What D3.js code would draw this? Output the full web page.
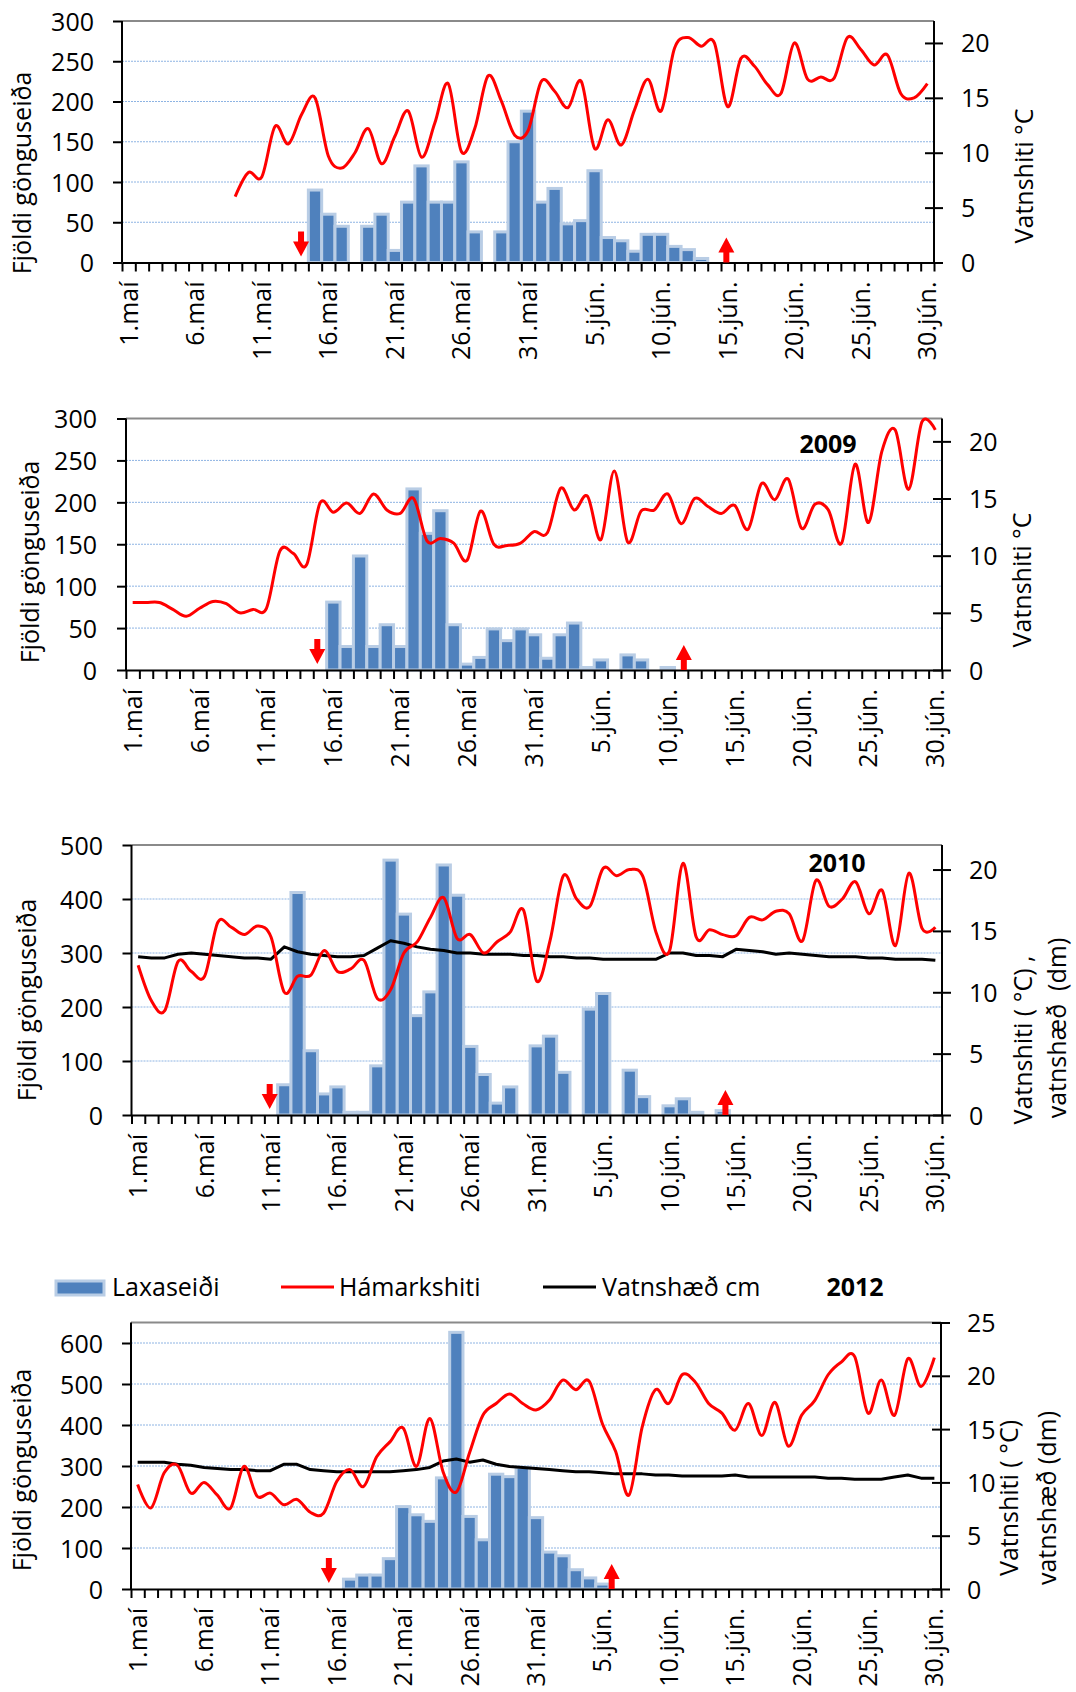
<!DOCTYPE html>
<html>
<head>
<meta charset="utf-8">
<script src="https://cdn.jsdelivr.net/npm/d3@7"></script>
<style>
  body { margin: 0; background: #fff; }
  svg { display: block; font-family: "Open Sans", sans-serif; }
</style>
</head>
<body>
<svg id="chart" width="1076" height="1692"></svg>
<script>
// day index 0 = 1. maí, 60 = 30. jún.
const tickDays = [0, 5, 10, 15, 20, 25, 30, 35, 40, 45, 50, 55, 60];
const tickLabels = ["1.maí", "6.maí", "11.maí", "16.maí", "21.maí", "26.maí", "31.maí",
                    "5.jún.", "10.jún.", "15.jún.", "20.jún.", "25.jún.", "30.jún."];

// panel 1 (no year shown)
const counts1 = [0,0,0,0,0,0,0,0,0,0, 0,0,0,0,90,60,45,0,45,60, 15,75,120,75,75,125,38,0,38,150,
                 188,75,92,48,52,114,31,27,14,35, 35,20,16,5,0,0,0,0,0,0, 0,0,0,0,0,0,0,0,0,0, 0];
const temp1 = [null,null,null,null,null,null,null,null,6.0,8.2, 7.8,12.4,10.8,13.5,15.0,9.7,8.6,10.0,12.2,9.0,
               11.5,13.8,9.6,12.7,16.3,10.1,12.2,17.0,14.7,11.6, 12.0,16.5,15.6,14.1,16.5,10.4,13.0,10.7,13.9,16.7,
               13.8,19.5,20.5,19.7,20.0,14.2,18.6,17.9,16.2,15.4, 20.0,16.7,16.9,16.8,20.5,19.4,18.0,18.9,15.4,15.0, 16.3];

// 2009
const counts2009 = [0,0,0,0,0,0,0,0,0,0, 0,0,0,0,0,81,28,136,28,54, 28,216,163,190,54,7,15,49,35,49,
                    42,14,42,56,3,12,0,18,12,0, 3,0,0,0,0,0,0,0,0,0, 0,0,0,0,0,0,0,0,0,0, 0];
const temp2009 = [5.9,5.9,5.9,5.3,4.7,5.4,6.0,5.8,5.0,5.3, 5.4,10.4,10.2,9.2,14.6,13.8,14.6,13.7,15.4,14.0,
                  13.7,15.0,11.3,11.5,11.1,9.6,13.9,11.0,10.9,11.1, 12.1,12.0,15.9,14.0,15.2,11.4,17.4,11.2,13.9,14.0,
                  15.4,12.8,15.0,14.3,13.7,14.4,12.3,16.3,14.9,16.7, 12.4,14.5,14.0,11.1,18.0,12.9,19.1,21.0,15.8,21.7, 21.0];

// 2010
const counts2010 = [0,0,0,0,0,0,0,0,0,0, 0,56,412,119,39,52,5,5,91,472, 372,184,228,463,407,127,75,22,52,0,
                    128,146,79,0,196,225,0,83,34,0, 17,30,5,0,8,0,0,0,0,0, 0,0,0,0,0,0,0,0,0,0, 0];
const temp2010 = [12.2,9.3,8.5,12.5,11.7,11.3,15.7,15.3,14.7,15.4, 14.5,10.0,11.3,11.4,13.4,11.7,11.9,12.6,9.5,10.2,
                  13.2,14.1,16.1,17.7,14.4,14.7,13.2,14.1,14.9,16.7, 10.9,14.2,19.5,17.6,17.0,20.1,19.5,20.0,19.4,14.8,
                  13.4,20.5,14.5,15.1,14.7,14.6,16.1,15.9,16.6,16.4, 14.2,19.1,17.0,17.6,19.0,16.4,18.3,13.8,19.7,15.2, 15.3];
const level2010 = [12.9,12.8,12.8,13.1,13.2,13.1,13.0,12.9,12.8,12.8, 12.7,13.7,13.3,13.1,13.0,12.9,12.9,13.0,13.6,14.2,
                   14.0,13.7,13.5,13.4,13.2,13.2,13.1,13.1,13.1,13.0, 13.0,12.9,12.9,12.8,12.8,12.7,12.7,12.7,12.7,12.7,
                   13.2,13.2,13.0,13.0,12.9,13.5,13.4,13.3,13.1,13.2, 13.1,13.0,12.9,12.9,12.9,12.8,12.8,12.7,12.7,12.7, 12.6];

// 2012
const counts2012 = [0,0,0,0,0,0,0,0,0,0, 0,0,0,0,0,0,24,34,34,74, 201,181,165,271,626,177,120,280,274,297,
                    174,90,81,47,27,12,0,0,0,0, 0,0,0,0,0,0,0,0,0,0, 0,0,0,0,0,0,0,0,0,0, 0];
const temp2012 = [9.8,7.6,10.9,11.6,9.0,10.0,8.8,7.6,11.5,8.7, 9.0,7.9,8.4,7.2,7.1,10.1,11.2,9.6,12.4,13.8,
                  15.1,11.5,16.0,11.0,9.1,12.8,16.3,17.4,18.3,17.4, 16.8,17.7,19.6,18.7,19.5,15.5,12.9,8.8,15.2,18.7,
                  17.4,20.1,19.4,17.4,16.5,14.9,17.4,14.4,17.5,13.4, 16.3,17.7,20.1,21.3,21.8,16.5,19.6,16.3,21.6,19.0, 21.7];
const level2012 = [11.9,11.9,11.9,11.7,11.6,11.4,11.3,11.2,11.2,11.1, 11.1,11.7,11.7,11.2,11.1,11.0,11.0,11.0,11.0,11.0,
                   11.1,11.2,11.4,12.0,12.2,11.9,12.1,11.7,11.5,11.4, 11.3,11.2,11.1,11.0,11.0,10.9,10.8,10.8,10.8,10.7,
                   10.7,10.6,10.6,10.6,10.6,10.7,10.5,10.5,10.5,10.5, 10.5,10.5,10.4,10.4,10.3,10.3,10.3,10.5,10.7,10.4, 10.4];

// trap start / end markers (day position)
const arrowsDown = [13.45, 14.3, 10.4, 14.9];
const arrowsUp = [45.4, 41.7, 44.7, 36.2];

const leftTicks = [
    [0, 50, 100, 150, 200, 250, 300],
    [0, 50, 100, 150, 200, 250, 300],
    [0, 100, 200, 300, 400, 500],
    [0, 100, 200, 300, 400, 500, 600]
];
const rightTicks = [
    [0, 5, 10, 15, 20],
    [0, 5, 10, 15, 20],
    [0, 5, 10, 15, 20],
    [0, 5, 10, 15, 20, 25]
];

const svg = d3.select("svg#chart");
const FS = 25;

const panels = [
    { counts: counts1, temp: temp1, level: null, leftMax: 300, rightMax: 22,
      left: 122, right: 934, top: 21, bottom: 262.5, leftLabelX: 94, rightLabelX: 961,
      leftTitle: { x: 22, y: 173 },
      rightTitle: [{ text: "Vatnshiti °C", x: 1024, y: 176 }],
      year: null },
    { counts: counts2009, temp: temp2009, level: null, leftMax: 300, rightMax: 22,
      left: 126, right: 942, top: 418.5, bottom: 670, leftLabelX: 97, rightLabelX: 969,
      leftTitle: { x: 30, y: 562 },
      rightTitle: [{ text: "Vatnshiti °C", x: 1022, y: 580 }],
      year: { text: "2009", x: 828, y: 453 } },
    { counts: counts2010, temp: temp2010, level: level2010, leftMax: 500, rightMax: 22,
      left: 131.5, right: 942, top: 845, bottom: 1115, leftLabelX: 103, rightLabelX: 969,
      leftTitle: { x: 27, y: 1000 },
      rightTitle: [{ text: "Vatnshiti ( °C) ,", x: 1023, y: 1040 },
                   { text: "vatnshæð  (dm)", x: 1057, y: 1028 }],
      year: { text: "2010", x: 837, y: 872 } },
    { counts: counts2012, temp: temp2012, level: level2012, leftMax: 650, rightMax: 25,
      left: 131, right: 941, top: 1322.5, bottom: 1589, leftLabelX: 103, rightLabelX: 967,
      leftTitle: { x: 22, y: 1470 },
      rightTitle: [{ text: "Vatnshiti ( °C)", x: 1009, y: 1498 },
                   { text: "vatnshæð (dm)", x: 1047, y: 1498 }],
      year: { text: "2012", x: 855, y: 1296 } }
];

panels.forEach((p, k) => drawPanel(p, k));
drawLegend();

function drawPanel(p, k) {
    const days = d3.range(p.counts.length);
    const x = d3.scaleBand().domain(days).range([p.left, p.right]).padding(0);
    const xPos = d3.scaleLinear().domain([0, days.length]).range([p.left, p.right]);
    const yL = d3.scaleLinear().domain([0, p.leftMax]).range([p.bottom, p.top]);
    const yR = d3.scaleLinear().domain([0, p.rightMax]).range([p.bottom, p.top]);
    const g = svg.append("g");

    // dotted grid lines
    g.append("g").selectAll("line")
        .data(leftTicks[k].filter(t => t > 0 && yL(t) > p.top + 2))
        .join("line")
        .attr("x1", p.left).attr("x2", p.right)
        .attr("y1", d => yL(d)).attr("y2", d => yL(d))
        .attr("stroke", "#8eb4e3").attr("stroke-width", 1)
        .attr("stroke-dasharray", "2,1");

    // plot border (top edge grey)
    g.append("line")
        .attr("x1", p.left).attr("x2", p.right).attr("y1", p.top).attr("y2", p.top)
        .attr("stroke", "#8a8a8a").attr("stroke-width", 2);

    // bars
    g.append("g").selectAll("rect")
        .data(p.counts.map((v, i) => ({ i, v })).filter(d => d.v > 0))
        .join("rect")
        .attr("x", d => x(d.i)).attr("width", x.bandwidth())
        .attr("y", d => yL(d.v)).attr("height", d => yL(0) - yL(d.v))
        .attr("fill", "#4f81bd").attr("stroke", "#b9cde5").attr("stroke-width", 3);

    const cx = i => x(i) + x.bandwidth() / 2;

    if (p.level) {
        const lineLevel = d3.line().x((d, i) => cx(i)).y(d => yR(d));
        g.append("path").attr("d", lineLevel(p.level))
            .attr("fill", "none").attr("stroke", "#000").attr("stroke-width", 3)
            .attr("stroke-linejoin", "round");
    }

    const lineTemp = d3.line()
        .defined(d => d != null)
        .x((d, i) => cx(i)).y(d => yR(d))
        .curve(d3.curveCardinal.tension(0));
    g.append("path").attr("d", lineTemp(p.temp))
        .attr("fill", "none").attr("stroke", "#ff0000").attr("stroke-width", 3);

    // left axis
    const ax = g.append("g")
        .attr("transform", `translate(${p.left},0)`)
        .call(d3.axisLeft(yL).tickValues(leftTicks[k]).tickSize(9).tickSizeOuter(0)
            .tickPadding(p.left - 9 - p.leftLabelX));
    // right axis
    const ar = g.append("g")
        .attr("transform", `translate(${p.right},0)`)
        .call(d3.axisRight(yR).tickValues(rightTicks[k]).tickSize(9).tickSizeOuter(0)
            .tickPadding(p.rightLabelX - p.right - 9));
    ar.selectAll(".tick line").attr("x1", -9);
    ar.select(".domain").attr("d", `M0,${p.top}V${p.bottom}`);
    ax.select(".domain").attr("d", `M0,${p.top}V${p.bottom}`);

    // bottom tick marks at day boundaries
    const ab = g.append("g")
        .attr("transform", `translate(0,${p.bottom})`)
        .call(d3.axisBottom(xPos).tickValues(d3.range(days.length + 1)).tickSize(9)
            .tickSizeOuter(0).tickFormat(""));
    // bottom labels
    const al = g.append("g")
        .attr("transform", `translate(0,${p.bottom})`)
        .call(d3.axisBottom(x).tickValues(tickDays).tickSize(0)
            .tickFormat((d, i) => tickLabels[i]));
    al.select(".domain").remove();
    al.selectAll("text")
        .attr("transform", "rotate(-90)")
        .attr("text-anchor", "end")
        .attr("x", -19).attr("y", 0).attr("dy", "0.36em");

    [ax, ar, ab, al].forEach(a => a
        .attr("font-family", null).attr("font-size", FS)
        .call(s => s.selectAll(".domain, .tick line").attr("stroke", "#000").attr("stroke-width", 2))
        .call(s => s.selectAll("text").attr("fill", "#000")));
    ax.selectAll(".tick text").attr("dy", "0.36em");
    ar.selectAll(".tick text").attr("dy", "0.36em");

    // arrows
    const xd = xPos(arrowsDown[k] ), xu = xPos(arrowsUp[k]);
    const yd = p.bottom - 31;
    g.append("path")
        .attr("d", `M${xd - 3},${yd}h6v10h5l-8,15l-8,-15h5z`)
        .attr("fill", "#ff0000");
    g.append("path")
        .attr("d", `M${xu - 3},${p.bottom}v-10h-5l8,-15l8,15h-5v10z`)
        .attr("fill", "#ff0000");

    // axis titles
    g.append("text")
        .attr("transform", `translate(${p.leftTitle.x},${p.leftTitle.y}) rotate(-90)`)
        .attr("text-anchor", "middle").attr("dy", "0.36em")
        .attr("font-size", FS).text("Fjöldi gönguseiða");
    p.rightTitle.forEach(t => {
        g.append("text")
            .attr("transform", `translate(${t.x},${t.y}) rotate(-90)`)
            .attr("text-anchor", "middle").attr("dy", "0.36em")
            .attr("font-size", FS).attr("xml:space", "preserve")
            .style("white-space", "pre")
            .text(t.text);
    });

    if (p.year) {
        g.append("text")
            .attr("x", p.year.x).attr("y", p.year.y)
            .attr("text-anchor", "middle").attr("font-size", FS).attr("font-weight", 700)
            .text(p.year.text);
    }
}

function drawLegend() {
    const lg = svg.append("g").attr("font-size", FS);
    lg.append("rect").attr("x", 56).attr("y", 1281).attr("width", 48).attr("height", 14)
        .attr("fill", "#4f81bd").attr("stroke", "#b9cde5").attr("stroke-width", 3);
    lg.append("text").attr("x", 112).attr("y", 1296).text("Laxaseiði");
    lg.append("line").attr("x1", 281).attr("x2", 334).attr("y1", 1287).attr("y2", 1287)
        .attr("stroke", "#ff0000").attr("stroke-width", 3);
    lg.append("text").attr("x", 339).attr("y", 1296).text("Hámarkshiti");
    lg.append("line").attr("x1", 543).attr("x2", 596).attr("y1", 1287).attr("y2", 1287)
        .attr("stroke", "#000").attr("stroke-width", 3);
    lg.append("text").attr("x", 602).attr("y", 1296).text("Vatnshæð cm");
}
</script>
</body>
</html>
